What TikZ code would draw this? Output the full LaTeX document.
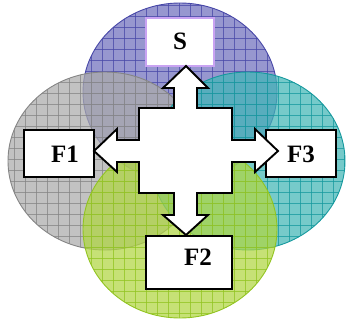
\documentclass[tikz,border=0pt]{standalone}
\usepackage{fontspec}
\setmainfont{Liberation Serif}
\definecolor{cPur}{HTML}{6F6FBC}
\definecolor{cPurL}{HTML}{4848A8}
\definecolor{cGra}{HTML}{ABABAB}
\definecolor{cGraL}{HTML}{858585}
\definecolor{cTea}{HTML}{41B6B6}
\definecolor{cTeaL}{HTML}{15999E}
\definecolor{cGre}{HTML}{B0D641}
\definecolor{cGreL}{HTML}{92C421}
\definecolor{cLav}{HTML}{C9A3F2}
\newcommand\myblob[4]{%
  \fill[#3, fill opacity=0.72] (#1,#2) ellipse [x radius=97, y radius=89];
  \begin{scope}
    \clip (#1,#2) ellipse [x radius=97, y radius=89];
    \foreach \i in {3,14,...,350} \draw[#4, opacity=0.75, line width=0.8pt] (\i,0) -- (\i,323);
    \foreach \j in {5,16,...,325} \draw[#4, opacity=0.75, line width=0.8pt] (0,\j) -- (347,\j);
  \end{scope}
  \draw[#4, line width=0.9pt] (#1,#2) ellipse [x radius=97, y radius=89];
}
\tikzset{
  box/.style={draw=black, line width=1.5pt, fill=white, inner sep=0pt},
  lbl/.style={font=\fontsize{25}{29}\selectfont\bfseries, inner sep=0pt},
  cross/.style={draw=black, line width=1.9pt, fill=white, line join=miter}
}
\begin{document}
\begin{tikzpicture}[x=1pt,y=-1pt]
\useasboundingbox (0,0) rectangle (347,323);
\myblob{180}{92}{cPur}{cPurL}
\myblob{105}{161}{cGra}{cGraL}
\myblob{248}{161}{cTea}{cTeaL}
\myblob{180}{229}{cGre}{cGreL}
\node[box, draw=cLav, line width=1.6pt, minimum width=68pt, minimum height=48pt] (S) at (180,42) {};
\node[box, minimum width=70pt, minimum height=47pt] (F1) at (59,153.5) {};
\node[box, minimum width=70pt, minimum height=47pt] (F3) at (301,153.5) {};
\node[box, minimum width=86pt, minimum height=53pt] (F2) at (189,262.5) {};
\node[lbl] (tS) at (180,41) {S};
\node[lbl] (tF1) at (65,154) {F1};
\node[lbl] (tF3) at (301,154) {F3};
\node[lbl] (tF2) at (198,257.5) {F2};
\draw[cross] (186,66) -- (208,88) -- (197,88) -- (197,108) -- (232,108) -- (232,140)
  -- (255,140) -- (255,129) -- (278,151) -- (255,172) -- (255,162) -- (232,162)
  -- (232,193) -- (197,193) -- (197,215) -- (208,215) -- (186,235) -- (163,215)
  -- (174,215) -- (174,193) -- (139,193) -- (139,162) -- (117,162) -- (117,172)
  -- (94,151) -- (117,129) -- (117,140) -- (139,140) -- (139,108) -- (174,108)
  -- (174,88) -- (163,88) -- cycle;
\end{tikzpicture}
\end{document}
